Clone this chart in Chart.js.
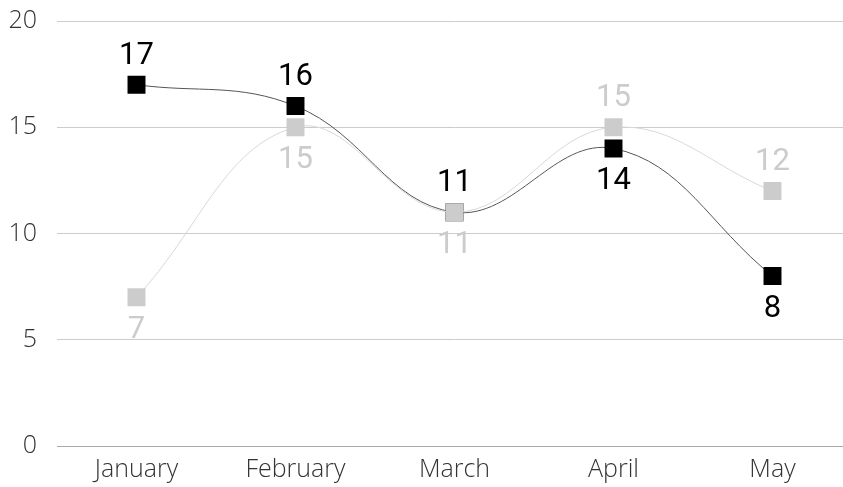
<!DOCTYPE html>
<html>
<head>
<meta charset="utf-8">
<script src="https://cdn.jsdelivr.net/npm/chart.js@4/dist/chart.umd.min.js"></script>
<style>
html,body{margin:0;padding:0;overflow:hidden;background:#fff;width:843px;height:487px;}
canvas{display:block;}
</style>
</head>
<body>
<canvas id="c" width="852" height="487"></canvas>
<script>
const categories = ["January", "February", "March", "April", "May"];
const seriesBlack = [17, 16, 11, 14, 8];
const seriesGray = [7, 15, 11, 15, 12];
const yTicks = [0, 5, 10, 15, 20];
// label position: -1 above, +1 below
const blackLabelSide = [-1, -1, -1, 1, 1];
const grayLabelSide = [1, 1, 1, -1, -1];

const labelPlugin = {
  id: 'pointLabels',
  afterDatasetsDraw(chart) {
    const ctx = chart.ctx;
    chart.data.datasets.forEach((ds, i) => {
      const meta = chart.getDatasetMeta(i);
      meta.data.forEach((pt, j) => {
        const side = ds.labelSide[j];
        ctx.save();
        ctx.font = '31px Roboto';
        ctx.fillStyle = ds.labelColor;
        ctx.textAlign = 'center';
        ctx.textBaseline = 'middle';
        ctx.fillText(String(ds.data[j]), pt.x, pt.y + side * 31 + 2);
        ctx.restore();
      });
    });
  }
};

new Chart(document.getElementById('c'), {
  type: 'line',
  data: {
    labels: categories,
    datasets: [
      {
        data: seriesGray,
        borderColor: '#d8d8d8',
        borderWidth: 1,
        backgroundColor: '#cccccc',
        pointBackgroundColor: '#cccccc',
        pointBorderWidth: 0,
        pointStyle: 'rect',
        pointRadius: 12.7,
        tension: 0.4,
        labelColor: '#cccccc',
        labelSide: grayLabelSide
      },
      {
        data: seriesBlack,
        borderColor: '#555555',
        borderWidth: 1,
        backgroundColor: '#000000',
        pointBackgroundColor: '#000000',
        pointBorderWidth: 0,
        pointStyle: 'rect',
        pointRadius: 12.7,
        tension: 0.4,
        labelColor: '#000000',
        labelSide: blackLabelSide
      }
    ]
  },
  options: {
    responsive: false,
    animation: false,
    layout: { autoPadding: false, padding: { top: 21, right: 0, left: 0, bottom: 0 } },
    plugins: { legend: { display: false }, tooltip: { enabled: false } },
    scales: {
      x: {
        offset: true,
        grid: { display: false, drawTicks: false },
        border: { display: true, color: '#aaaaaa', width: 1 },
        ticks: { color: '#333333', font: { family: 'Open Sans', size: 25, weight: 300 }, padding: 9, maxRotation: 0 },
        afterFit(scale) { scale.height = 41; scale.paddingLeft = 0; scale.paddingRight = 0; }
      },
      y: {
        min: 0, max: 20,
        afterBuildTicks(scale) { scale.ticks = yTicks.map(v => ({ value: v })); },
        grid: { color: '#cccccc', drawTicks: false, lineWidth: 1 },
        border: { display: false },
        ticks: { color: '#333333', font: { family: 'Open Sans', size: 25, weight: 300 }, padding: 20, align: 'center' },
        afterFit(scale) { scale.width = 57; scale.paddingTop = 0; scale.paddingBottom = 0; }
      }
    }
  },
  plugins: [labelPlugin]
});
</script>
</body>
</html>
